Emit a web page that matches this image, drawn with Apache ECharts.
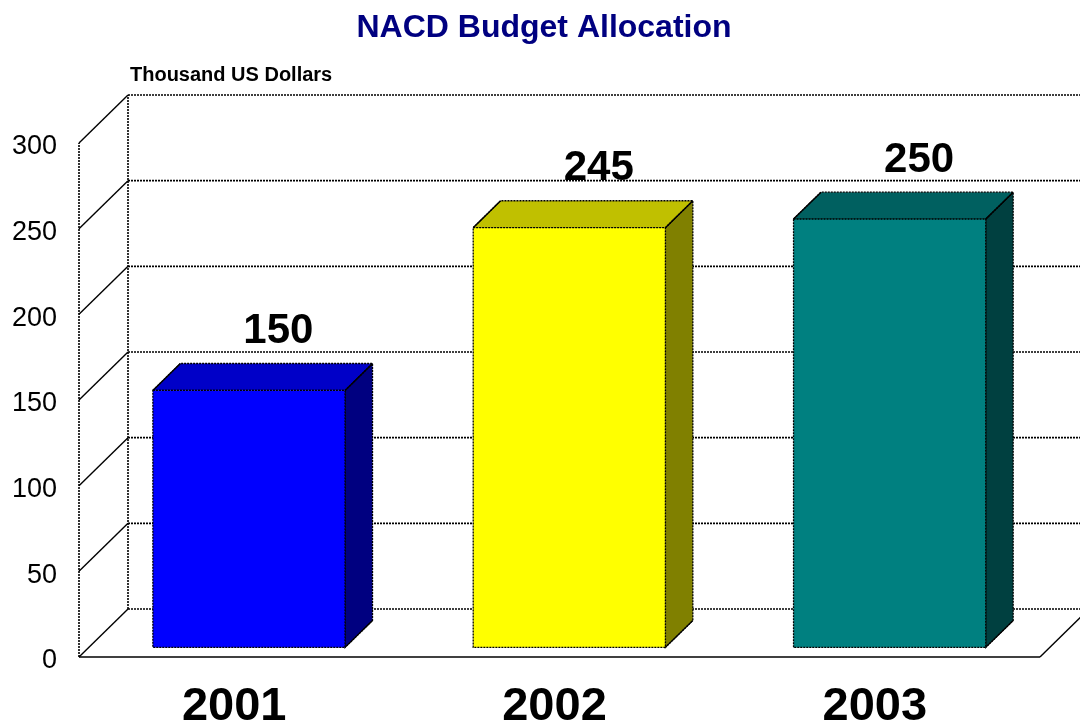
<!DOCTYPE html>
<html>
<head>
<meta charset="utf-8">
<script src="https://cdn.jsdelivr.net/npm/echarts@6/dist/echarts.min.js"></script>
<style>
html,body{margin:0;padding:0;background:#fff;}
#chart{width:1080px;height:724px;}
</style>
</head>
<body>
<div id="chart"></div>
<script>
// ---- data ----
const categories = ['2001', '2002', '2003'];
const values = [150, 245, 250];
const yTicks = [0, 50, 100, 150, 200, 250, 300];
const titleText = 'NACD Budget Allocation';
const unitText = 'Thousand US Dollars';

// ---- styles ----
const frontColors = ['#0000FF', '#FFFF00', '#008080'];
const topColors = ['#0000C8', '#C0C000', '#006060'];
const sideColors = ['#000080', '#808000', '#004040'];
const FONT = '"Liberation Sans", Arial, sans-serif';
const DX = 49, DY = 48;          // wall depth
const BAR_FRONT = 0.2;           // bar front position in depth
const BAR_DEPTH = 0.56;          // bar depth fraction
const DASH = [2, 1];

const chart = echarts.init(document.getElementById('chart'));

function renderFrame(params, api) {
  const cs = params.coordSys;
  const left = cs.x, right = cs.x + cs.width;
  const children = [];
  const yOf = v => api.coord([0, v])[1];
  const y0 = yOf(yTicks[0]);
  const yMax = yOf(yTicks[yTicks.length - 1]);
  yTicks.forEach(v => {
    const y = yOf(v);
    children.push({type: 'line', shape: {x1: left + DX, y1: y - DY, x2: right + DX + 5, y2: y - DY},
      style: {stroke: '#000', lineWidth: 1.6, lineDash: DASH}});
    children.push({type: 'line', shape: {x1: left, y1: y, x2: left + DX, y2: y - DY},
      style: {stroke: '#000', lineWidth: 1.4}});
    children.push({type: 'text', style: {text: String(v), x: left - 22, y: y + 4,
      fill: '#000', font: '27px ' + FONT, align: 'right', verticalAlign: 'middle'}});
  });
  children.push({type: 'line', shape: {x1: left, y1: y0, x2: left, y2: yMax},
    style: {stroke: '#000', lineWidth: 1.6, lineDash: DASH}});
  children.push({type: 'line', shape: {x1: left + DX, y1: y0 - DY, x2: left + DX, y2: yMax - DY},
    style: {stroke: '#000', lineWidth: 1.6, lineDash: DASH}});
  children.push({type: 'line', shape: {x1: left, y1: y0, x2: right, y2: y0},
    style: {stroke: '#000', lineWidth: 1.5}});
  children.push({type: 'line', shape: {x1: right, y1: y0, x2: right + DX, y2: y0 - DY},
    style: {stroke: '#000', lineWidth: 1.4}});
  return {type: 'group', children};
}

function renderBar(params, api) {
  const i = params.dataIndex;
  const v = api.value(1);
  const c = api.coord([api.value(0), v]);
  const b = api.coord([api.value(0), 0]);
  const band = api.size([1, 0])[0];
  const w = band * 0.6;
  const fdx = DX * BAR_FRONT, fdy = DY * BAR_FRONT;
  const bdx = DX * BAR_DEPTH, bdy = DY * BAR_DEPTH;
  const x0 = c[0] - w / 2 + fdx, x1 = x0 + w;
  const yT = c[1] - fdy, yB = b[1] - fdy;
  const edge = {stroke: '#000', lineWidth: 1.3, lineDash: DASH};
  return {
    type: 'group',
    children: [
      {type: 'polygon', shape: {points: [[x1, yT], [x1 + bdx, yT - bdy], [x1 + bdx, yB - bdy], [x1, yB]]},
        style: Object.assign({fill: sideColors[i]}, edge)},
      {type: 'polygon', shape: {points: [[x0, yT], [x1, yT], [x1 + bdx, yT - bdy], [x0 + bdx, yT - bdy]]},
        style: Object.assign({fill: topColors[i]}, edge)},
      {type: 'rect', shape: {x: x0, y: yT, width: w, height: yB - yT},
        style: Object.assign({fill: frontColors[i]}, edge)},
      {type: 'line', shape: {x1: x0, y1: yT, x2: x0 + bdx, y2: yT - bdy}, style: {stroke: '#000', lineWidth: 1.4}},
      {type: 'line', shape: {x1: x1, y1: yT, x2: x1 + bdx, y2: yT - bdy}, style: {stroke: '#000', lineWidth: 1.4}},
      {type: 'line', shape: {x1: x1, y1: yB, x2: x1 + bdx, y2: yB - bdy}, style: {stroke: '#000', lineWidth: 1.2}},
      {type: 'text', style: {text: String(v), x: (x0 + x1) / 2 + bdx + 2, y: yT - bdy - 32,
        fill: '#000', font: 'bold 42px ' + FONT, align: 'center', verticalAlign: 'middle'}}
    ]
  };
}

chart.setOption({
  animation: false,
  backgroundColor: '#fff',
  graphic: [
    {type: 'text', x: 544, y: 28, style: {text: titleText, fill: '#000080', font: 'bold 32px ' + FONT, align: 'center', verticalAlign: 'middle'}},
    {type: 'text', x: 130, y: 75, style: {text: unitText, fill: '#000', font: 'bold 20px ' + FONT, align: 'left', verticalAlign: 'middle'}}
  ],
  grid: {left: 79, top: 143, width: 961, height: 514, outerBoundsMode: 'none', containLabel: false},
  xAxis: {
    type: 'category', data: categories,
    axisLine: {show: false}, axisTick: {show: false}, splitLine: {show: false},
    axisLabel: {fontSize: 47, fontWeight: 'bold', color: '#000', fontFamily: FONT, margin: 27, padding: [0, 10, 0, 0]}
  },
  yAxis: {
    type: 'value', min: 0, max: 300, interval: 50,
    axisLine: {show: false}, axisTick: {show: false}, splitLine: {show: false},
    axisLabel: {show: false}
  },
  series: [
    {type: 'custom', renderItem: renderFrame, data: [[0, 0]], z: 1, silent: true},
    {type: 'custom', renderItem: renderBar, data: categories.map((c, i) => [i, values[i]]), z: 2, silent: true}
  ]
});
</script>
</body>
</html>
